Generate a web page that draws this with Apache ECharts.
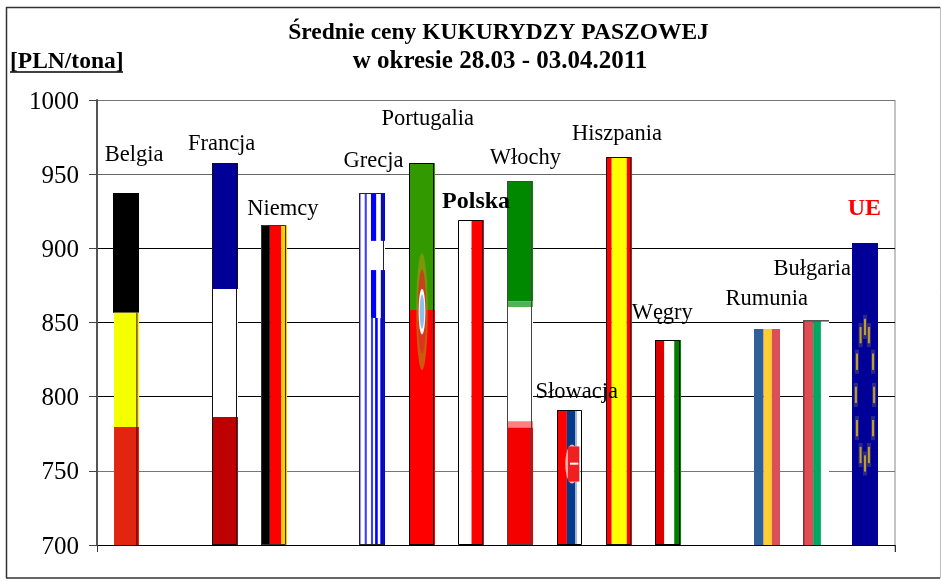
<!DOCTYPE html>
<html>
<head>
<meta charset="utf-8">
<script src="https://cdn.jsdelivr.net/npm/echarts@6/dist/echarts.min.js"></script>
<style>
html, body { margin: 0; padding: 0; background: #fff; }
#chartmain { width: 941px; height: 582px; }
</style>
</head>
<body>
<div id="chartmain"></div>
<script>
// dane, puste pozycje to przerwy miedzy slupkami
var categories = ['Belgia', '', 'Francja', 'Niemcy', '', 'Grecja', 'Portugalia', 'Polska', 'Włochy', 'Słowacja', 'Hiszpania', 'Węgry', '', 'Rumunia', 'Bułgaria', 'UE'];
var prices = [937, null, 957.5, 916, null, 937, 957.5, 919, 945.5, 791, 961.5, 838, null, 845.5, 852, 903.5];
var yTicks = [700, 750, 800, 850, 900, 950, 1000];

var serif = '"Liberation Serif", "Times New Roman", serif';

// polozenie podpisow wzgledem wierzcholka slupka
var labelOffsets = {
    'Belgia': [8, -38], 'Francja': [-3, -19], 'Niemcy': [9, -16], 'Grecja': [1, -32],
    'Portugalia': [6, -44], 'Polska': [5, -18], 'Włochy': [5, -23], 'Słowacja': [7, -18],
    'Hiszpania': [-2, -23], 'Węgry': [-6, -27], 'Rumunia': [0, -30], 'Bułgaria': [-4, -50], 'UE': [-1, -34]
};

// flagi: [x0, x1, y0, y1, kolor] jako ulamki slupka, 'e' to elipsa [cx, cy, rx, ry, kolor]
var blue = '#0000ff', thin = '#3c3cff';
var flags = {
    'Belgia': { border: null, parts: [[0, 1, 0, .34, '#000'], [.04, 1, .34, .665, '#f5ff00'], [.04, 1, .665, 1, '#e12510'], [.9, .94, .34, 1, '#400']] },
    'Francja': { border: '#111', parts: [[0, 1, 0, .33, '#000099'], [0, 1, .33, .665, '#fff'], [0, 1, .665, 1, '#bf0000']] },
    'Niemcy': { border: '#333', parts: [[0, .34, 0, 1, '#000'], [.34, .78, 0, 1, '#f00'], [.78, 1, 0, 1, '#ffcc00']] },
    'Grecja': { border: '#222', parts: [[0, 1, 0, 1, '#fff'], [0, .06, 0, 1, thin], [.22, .3, 0, 1, thin],
        [.46, .54, .355, 1, thin], [.62, .72, .355, 1, blue], [.82, 1, .355, 1, blue],
        [.46, .66, 0, .136, blue], [.84, 1, 0, .136, blue], [.46, .66, .219, .355, blue], [.84, 1, .219, .355, blue]] },
    'Portugalia': { border: '#000', parts: [[0, 1, 0, .385, '#339900'], [0, 1, .385, 1, '#f00'],
        ['e', .5, .389, .22, .153, 'rgba(170,150,20,.6)'], ['e', .5, .389, .16, .11, 'rgba(216,48,32,.85)'], ['e', .5, .389, .13, .06, '#fff'], ['e', .5, .389, .09, .045, '#8fc0e8']] },
    'Polska': { border: '#000', parts: [[0, .52, 0, 1, '#fff'], [.52, 1, 0, 1, '#f00']] },
    'Włochy': { border: '#444', parts: [[0, 1, 0, .33, '#008800'], [0, 1, .33, .347, '#55b055'], [0, 1, .347, .66, '#fff'], [0, 1, .66, .677, '#ff8080'], [0, 1, .677, 1, '#f50000']] },
    'Słowacja': { border: '#000', parts: [[0, .38, 0, 1, '#f00'], [.38, .7, 0, 1, '#003a88'], [.7, .88, 0, 1, '#fff'], [.7, .76, 0, 1, '#8aa4cc'],
        ['e', .58, .4, .26, .145, '#ffb0b0'], [.42, .86, .27, .53, '#f02020'], [.5, .82, .39, .405, '#fff']] },
    'Hiszpania': { border: '#111', parts: [[0, .22, 0, 1, '#f00'], [.22, .8, 0, 1, '#ff0'], [.8, 1, 0, 1, '#f00']] },
    'Węgry': { border: '#000', parts: [[0, .36, 0, 1, '#dd0000'], [.36, .74, 0, 1, '#fff'], [.74, 1, 0, 1, '#008000']] },
    'Rumunia': { border: null, parts: [[0, .37, 0, 1, '#315f9a'], [.37, .69, 0, 1, '#ffcc33'], [.69, 1, 0, 1, '#d9505a']] },
    'Bułgaria': { border: null, parts: [[0, .39, 0, 1, '#e04c52'], [0, .06, 0, 1, '#8a3038'], [.39, .69, 0, 1, '#00a760'], [.69, 1, 0, 1, '#fff'], [0, 1, 0, .007, '#555']] },
    'UE': { border: null, parts: [[0, 1, 0, 1, '#000099']] }
};
// gwiazdki UE
var starPlaces = [[.5, .278], [.33, .305], [.65, .305], [.19, .393], [.81, .393], [.15, .503], [.85, .503], [.19, .613], [.81, .613], [.33, .702], [.65, .702], [.5, .73]];
starPlaces.forEach(function (s) {
    flags['UE'].parts.push([s[0] - .08, s[0] + .08, s[1] - .04, s[1] + .04, '#2a2a80']);
});
starPlaces.forEach(function (s) {
    flags['UE'].parts.push([s[0] - .04, s[0] + .04, s[1] - .027, s[1] + .027, '#c09c28']);
});

var points = [];
categories.forEach(function (name, i) {
    if (prices[i] != null) {
        var isBold = name == 'Polska' || name == 'UE';
        points.push({
            value: [i, prices[i]],
            label: {
                formatter: name,
                offset: labelOffsets[name],
                fontWeight: isBold ? 'bold' : 'normal',
                fontSize: isBold ? 24 : 22.5,
                color: name == 'UE' ? '#ff0000' : '#000'
            }
        });
    }
});

function renderFlag(params, api) {
    var name = categories[api.value(0)];
    var flag = flags[name];
    var top = api.coord([api.value(0), api.value(1)]);
    var bottom = api.coord([api.value(0), 700]);
    var w = 26;
    var x = Math.round(top[0] - w / 2);
    var y = Math.round(top[1]);
    var h = Math.round(bottom[1]) - y;
    var children = [];
    flag.parts.forEach(function (p) {
        if (p[0] == 'e') {
            children.push({ type: 'ellipse', shape: { cx: x + p[1] * w, cy: y + p[2] * h, rx: p[3] * w, ry: p[4] * h }, style: { fill: p[5] } });
        } else {
            children.push({ type: 'rect', shape: { x: x + p[0] * w, y: y + p[2] * h, width: (p[1] - p[0]) * w, height: (p[3] - p[2]) * h }, style: { fill: p[4] } });
        }
    });
    if (flag.border) {
        children.push({ type: 'rect', shape: { x: x + 0.5, y: y + 0.5, width: w - 2, height: h - 1 }, style: { fill: 'none', stroke: flag.border, lineWidth: 1 } });
    }
    return { type: 'group', children: children };
}

var myChart = echarts.init(document.getElementById('chartmain'));
myChart.setOption({
    animation: false,
    backgroundColor: '#fff',
    textStyle: { fontFamily: serif },
    title: [
        { text: 'Średnie ceny KUKURYDZY PASZOWEJ', left: 493.5, top: 16, textAlign: 'center',
            textStyle: { fontFamily: serif, fontSize: 23.5, fontWeight: 'bold', color: '#000' } },
        { text: 'w okresie 28.03 - 03.04.2011', left: 495, top: 44, textAlign: 'center',
            textStyle: { fontFamily: serif, fontSize: 25, fontWeight: 'bold', color: '#000' } },
        { text: '[PLN/tona]', left: 5, top: 45, textStyle: { fontFamily: serif, fontSize: 23.5, fontWeight: 'bold', color: '#000' } }
    ],
    grid: { left: 97, top: 100, width: 798, height: 445, show: true, borderWidth: 0 },
    xAxis: {
        type: 'value', min: -0.589, max: 15.6,
        axisLine: { onZero: false, lineStyle: { color: '#000', width: 1 } },
        axisTick: { show: true, customValues: [-0.589, 15.6], length: 7, lineStyle: { color: '#333' } },
        axisLabel: { show: false },
        splitLine: { show: false }
    },
    yAxis: {
        type: 'value', min: yTicks[0], max: yTicks[yTicks.length - 1], interval: 50,
        axisLine: { show: true, onZero: false, lineStyle: { color: '#555', width: 2 } },
        axisTick: { show: true, length: 8, lineStyle: { color: '#444' } },
        axisLabel: { margin: 18,
            formatter: function (value) { return '{tick|' + value + '}'; },
            rich: { tick: { color: '#000', fontSize: 25, fontFamily: serif, padding: [4, 0, 0, 0] } } },
        splitLine: { show: true, lineStyle: { color: ['#000', '#777', '#000', '#000', '#000', '#666', '#777'], width: 1 } }
    },
    series: [
        { type: 'custom', renderItem: renderFlag, data: points.map(function (p) { return p.value; }), encode: { x: 0, y: 1 }, z: 3, clip: false },
        { type: 'scatter', symbolSize: 0, z: 5, data: points, silent: true, itemStyle: { opacity: 1 },
            label: { show: true, position: 'inside', align: 'center', verticalAlign: 'middle', fontFamily: serif } }
    ],
    graphic: [
        // ramka wykresu i podkreslenie jednostki
        { type: 'line', shape: { x1: 6, y1: 7.5, x2: 940, y2: 7.5 }, style: { stroke: '#333', lineWidth: 1.5 } },
        { type: 'line', shape: { x1: 6.5, y1: 7, x2: 6.5, y2: 578 }, style: { stroke: '#333', lineWidth: 1.5 } },
        { type: 'line', shape: { x1: 6, y1: 578, x2: 940, y2: 578 }, style: { stroke: '#333', lineWidth: 1.5 } },
        { type: 'line', shape: { x1: 940.5, y1: 7, x2: 940.5, y2: 578 }, style: { stroke: '#bbb', lineWidth: 1 } },
        { type: 'line', shape: { x1: 895, y1: 100, x2: 895, y2: 552 }, style: { stroke: '#888', lineWidth: 1 } },
        { type: 'line', shape: { x1: 10, y1: 72, x2: 123, y2: 72 }, style: { stroke: '#000', lineWidth: 1.5 } }
    ]
});
</script>
</body>
</html>
